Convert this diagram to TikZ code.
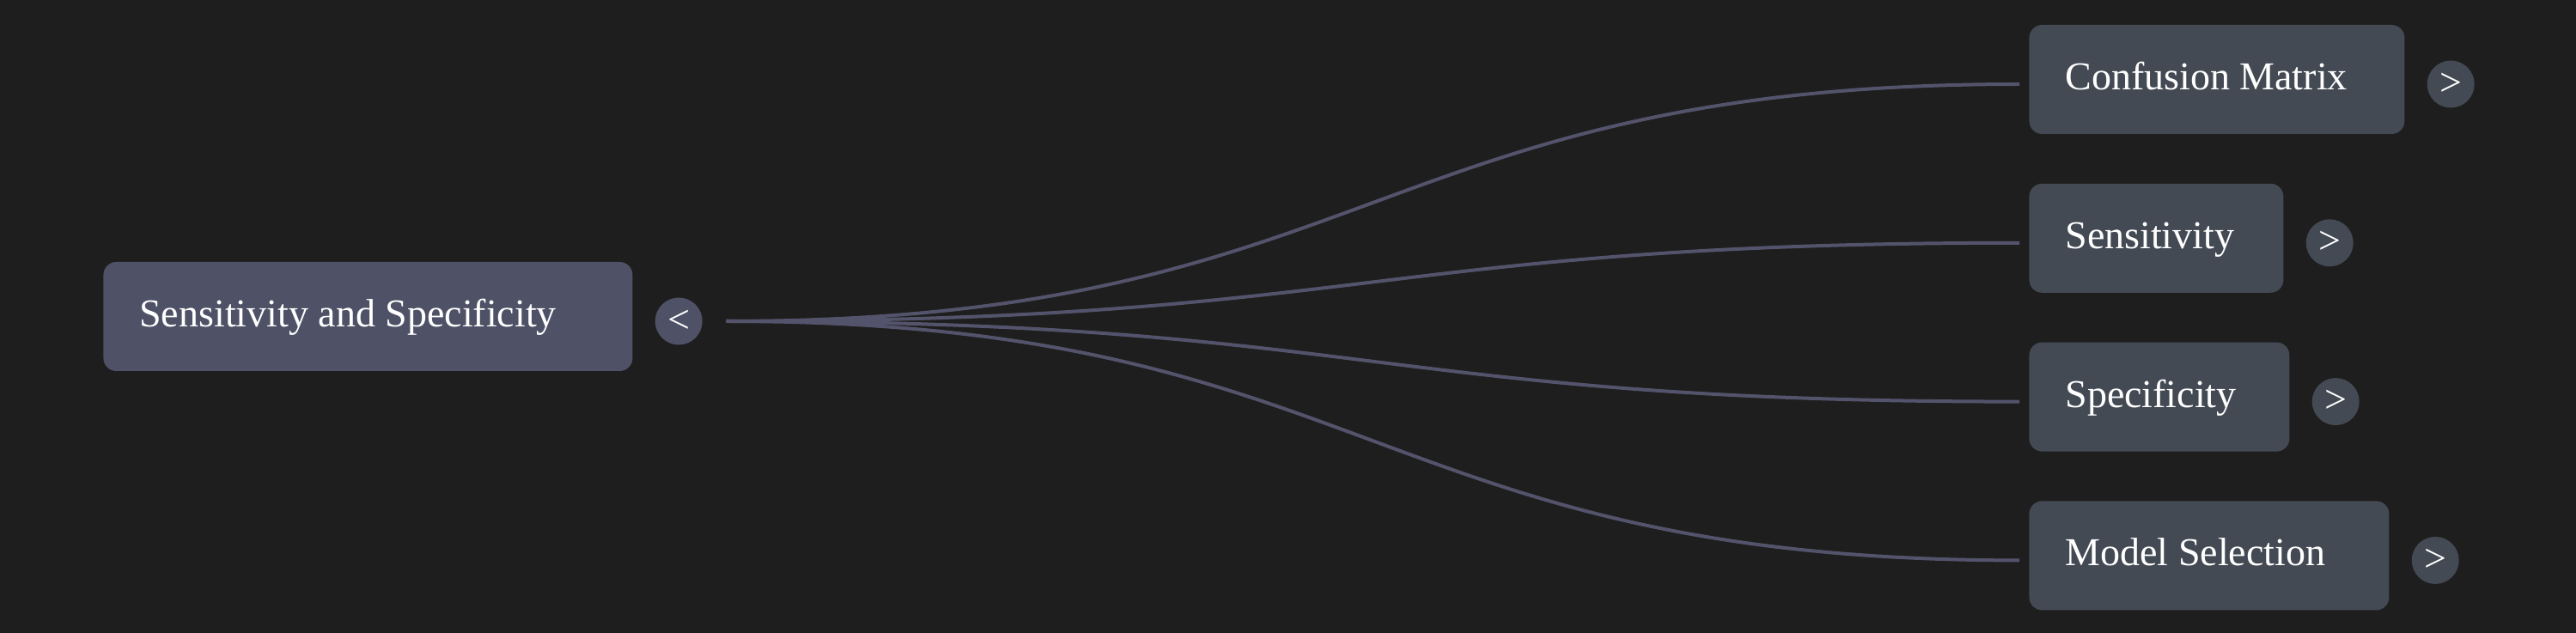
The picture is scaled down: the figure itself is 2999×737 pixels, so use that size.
\documentclass[tikz,border=0pt]{standalone}
\usepackage{fontspec}
\setmainfont{Liberation Serif}
\usepackage{tikz}
\usetikzlibrary{positioning}

\definecolor{bgcol}{RGB}{30,30,30}
\definecolor{rootcol}{RGB}{79,81,102}
\definecolor{leafcol}{RGB}{67,74,84}
\definecolor{linkcol}{RGB}{84,83,108}

% label left aligned in a box of given width
\newcommand{\lbl}[2]{\makebox[#1][l]{#2}}

\begin{document}
\begin{tikzpicture} [x = 0.5pt, y = -0.5pt,
  box/.style = {rectangle, rounded corners = 7.5pt, text = white,
    inner xsep = 21pt, inner ysep = 0pt, minimum height = 63.5pt,
    text height = 17pt, text depth = 5pt,
    font = \fontsize{23pt}{27pt}\selectfont},
  tog/.style = {circle, inner sep = 0pt, minimum size = 27.5pt, text = white,
    font = \fontsize{23pt}{27pt}\selectfont},
  link/.style = {draw = linkcol, line width = 2pt}]
\fill[bgcol] (0,0) rectangle (2999,737);
\useasboundingbox (0,0) rectangle (2999,737);
% root and its toggle
\node[box, fill = rootcol, anchor = west] (root) at (120,368.5) {\lbl{266pt}{Sensitivity and Specificity}};
\node[tog, fill = rootcol, right = 12.75pt of root, yshift = -2.75pt] (roott) {<};
\coordinate[right = 13.75pt of roott] (hub);
% children
\node[box, fill = leafcol, anchor = west] (conf) at (2362,92.5) {\lbl{176.5pt}{Confusion Matrix}};
\node[box, fill = leafcol, below right = 28.5pt and 0pt of conf.south west] (sens) {\lbl{106pt}{Sensitivity}};
\node[box, fill = leafcol, below right = 28.5pt and 0pt of sens.south west] (spec) {\lbl{109.5pt}{Specificity}};
\node[box, fill = leafcol, below right = 28.5pt and 0pt of spec.south west] (model) {\lbl{167.5pt}{Model Selection}};
\node[tog, fill = leafcol, right = 12.75pt of conf, yshift = -2.75pt] (conft) {>};
\node[tog, fill = leafcol, right = 12.75pt of sens, yshift = -2.75pt] (senst) {>};
\node[tog, fill = leafcol, right = 12.75pt of spec, yshift = -2.75pt] (spect) {>};
\node[tog, fill = leafcol, right = 12.75pt of model, yshift = -2.75pt] (modelt) {>};
% links
\draw[link] (hub) .. controls +(753.5,0) and +(-753.5,0) .. ([xshift = -5.5pt, yshift = -2.75pt]conf.west);
\draw[link] (hub) .. controls +(753.5,0) and +(-753.5,0) .. ([xshift = -5.5pt, yshift = -2.75pt]sens.west);
\draw[link] (hub) .. controls +(753.5,0) and +(-753.5,0) .. ([xshift = -5.5pt, yshift = -2.75pt]spec.west);
\draw[link] (hub) .. controls +(753.5,0) and +(-753.5,0) .. ([xshift = -5.5pt, yshift = -2.75pt]model.west);
\end{tikzpicture}
\end{document}
